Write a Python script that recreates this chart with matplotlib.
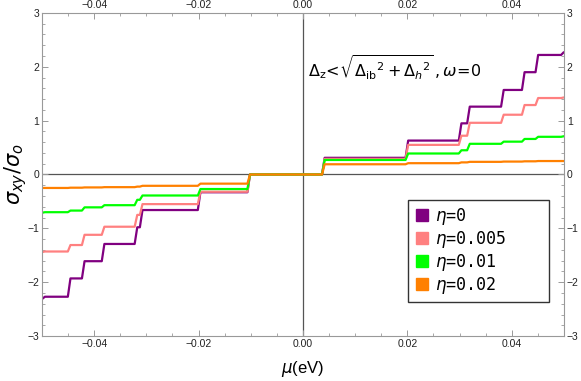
import matplotlib.pyplot as plt
import numpy as np
from matplotlib.lines import Line2D

# step positions (eV) shared by all curves
step_mu = [-0.0497, -0.0448, -0.0421, -0.0383, -0.0320, -0.0310, -0.0199, -0.0104,
           0.0039, 0.0199, 0.0301, 0.0317, 0.0382, 0.0422, 0.0448, 0.0497]

# plateau values of sigma_xy/sigma_o (one more than steps)
eta_0 = [-2.31, -2.27, -1.93, -1.61, -1.29, -0.98, -0.66, -0.33, 0.0,
         0.31, 0.63, 0.95, 1.26, 1.57, 1.90, 2.22, 2.27]
eta_0005 = [-1.44, -1.43, -1.31, -1.12, -0.97, -0.75, -0.55, -0.32, 0.0,
            0.29, 0.55, 0.72, 0.96, 1.11, 1.29, 1.42, 1.43]
eta_001 = [-0.71, -0.70, -0.67, -0.61, -0.57, -0.47, -0.39, -0.27, 0.0,
           0.27, 0.39, 0.45, 0.57, 0.61, 0.66, 0.70, 0.71]
eta_002 = [-0.25, -0.25, -0.245, -0.24, -0.235, -0.225, -0.21, -0.17, 0.0,
           0.19, 0.21, 0.225, 0.235, 0.24, 0.245, 0.25, 0.25]

labels = ["0", "0.005", "0.01", "0.02"]
colors = ["#800080", "#FF8080", "#00FF00", "#FF8000"]

xticks = [-0.04, -0.02, 0.0, 0.02, 0.04]
xticklabels = ["\u22120.04", "\u22120.02", "0.00", "0.02", "0.04"]
yticks = [-3, -2, -1, 0, 1, 2, 3]
yticklabels = ["\u22123", "\u22122", "\u22121", "0", "1", "2", "3"]


def staircase(edges, levels, x0=-0.05, x1=0.05, w=0.0005):
    xs = [x0]
    ys = [levels[0]]
    for i, e in enumerate(edges):
        xs += [e - w / 2, e + w / 2]
        ys += [levels[i], levels[i + 1]]
    xs.append(x1)
    ys.append(levels[-1])
    return np.array(xs), np.array(ys)


fig = plt.figure(figsize=(5.81, 3.81), dpi=100)
ax = fig.add_axes([0.0723, 0.118, 0.8984, 0.848])

ax.axhline(0, color="#555555", lw=0.9, zorder=1)
ax.axvline(0, color="#555555", lw=0.9, zorder=1)

for vals, c in zip([eta_0, eta_0005, eta_001, eta_002], colors):
    x, y = staircase(step_mu, vals)
    ax.plot(x, y, color=c, lw=1.6, solid_joinstyle="round", zorder=2)

ax.set_xlim(-0.05, 0.05)
ax.set_ylim(-3, 3)

ax.set_xticks(xticks)
ax.set_xticklabels(xticklabels)
ax.set_yticks(yticks)
ax.set_yticklabels(yticklabels)
ax.set_xticks(np.arange(-0.05, 0.0501, 0.005), minor=True)
ax.set_yticks(np.arange(-3, 3.01, 0.2), minor=True)

for s in ax.spines.values():
    s.set_color("#999999")
    s.set_linewidth(0.8)

ax.tick_params(which="both", direction="in", top=True, right=True,
               labeltop=True, labelright=True, color="#999999",
               labelcolor="#222222", labelsize=7.5, pad=2)
ax.tick_params(which="major", length=4, width=0.7)
ax.tick_params(which="minor", length=2.5, width=0.6)
for lab in ax.get_xticklabels() + ax.get_yticklabels():
    lab.set_family("Liberation Sans")

ax.set_xlabel(r"$\mu$(eV)", fontsize=12, family="Liberation Sans", labelpad=7)
ax.set_ylabel(r"$\sigma_{xy}/\sigma_o$", fontsize=15)
ax.yaxis.set_label_coords(-0.024, 0.5)

ax.text(0.0175, 1.98,
        r"$\Delta_{\rm z}\!<\!\sqrt{\Delta_{\rm ib}{}^{2}+\Delta_{h}{}^{2}}\,,\omega\!=\!0$",
        fontsize=11.5, ha="center", va="center")

handles = [Line2D([], [], marker="s", ls="none", color=c, markersize=8) for c in colors]
leg_labels = [r"$\eta$=" + l for l in labels]
leg = ax.legend(handles, leg_labels, loc="lower left",
                bbox_to_anchor=(0.701, 0.105, 0.27, 0.307), mode="expand",
                frameon=True, fancybox=False, edgecolor="black",
                prop={"family": "DejaVu Sans Mono", "size": 12},
                handletextpad=0.3, labelspacing=0.12, borderpad=0.35,
                handlelength=1.0, borderaxespad=0)
leg.get_frame().set_linewidth(1.0)

fig.savefig("out.png", dpi=100)
